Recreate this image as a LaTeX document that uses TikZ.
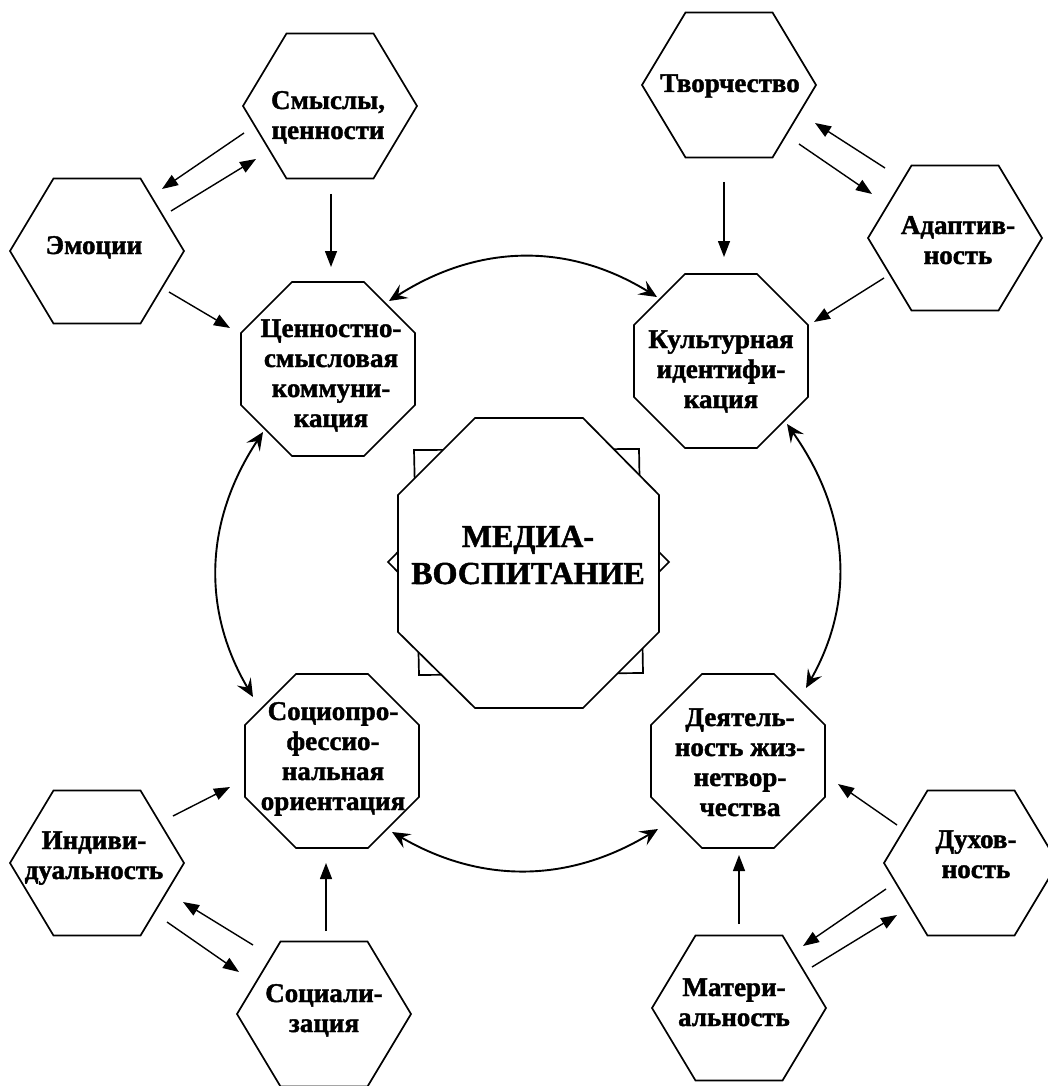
\documentclass[tikz,border=0pt]{standalone}
\usepackage{fontspec}
\setmainfont{Liberation Serif}[BoldFont={Liberation Serif Bold},BoldFeatures={FakeBold=1.5}]
\usetikzlibrary{calc,arrows.meta}
\newcommand\hexat[3]{%
  \coordinate (#1) at (#2,#3);
  \draw[shapeline,shift={(#2,#3)}] (-87,0) -- (-43.5,-72.5) -- (43.5,-72.5) -- (87,0) -- (43.5,72.5) -- (-43.5,72.5) -- cycle;}
\newcommand\octat[3]{%
  \coordinate (#1) at (#2,#3);
  \draw[shapeline,shift={(#2,#3)}] (-36,-87) -- (36,-87) -- (87,-36) -- (87,36) -- (36,87) -- (-36,87) -- (-87,36) -- (-87,-36) -- cycle;}
\begin{document}
\begin{tikzpicture}[x=1pt,y=-1pt,
  shapeline/.style={draw=black,line width=1.7pt,fill=white,line join=miter},
  lbl/.style={font=\fontsize{27}{30}\selectfont\bfseries,align=center,anchor=base,inner sep=0pt},
  biglbl/.style={font=\fontsize{32}{37}\selectfont\bfseries,align=center,anchor=base,inner sep=0pt},
  arr/.style={line width=1.4pt,-{Triangle[length=16pt,width=12pt]}},
  darr/.style={line width=1.9pt,{Stealth[length=18pt,width=16pt,inset=7pt]}-{Stealth[length=18pt,width=16pt,inset=7pt]}}]
\useasboundingbox (0,0) rectangle (1048,1086);
\begin{scope}
\clip (0,0) rectangle (1048,1086);
% hexagons
\hexat{smysl}{330}{106}
\hexat{emo}{97}{251}
\hexat{tvor}{729}{85}
\hexat{adapt}{955}{238}
\hexat{indiv}{97}{863}
\hexat{social}{324}{1014}
\hexat{dukh}{971}{863}
\hexat{mater}{739}{1008}
% octagons
\octat{cenn}{328}{369}
\octat{kult}{721}{361}
\octat{socpro}{332}{761}
\octat{deyat}{738}{761}
% centre
\coordinate (media) at (528,563);
\draw[shapeline] (388,562) -- (528,421) -- (669,562) -- (528,703) -- cycle;
\draw[shapeline] (414,450) -- (639,449) -- (643,673) -- (419,675) -- cycle;
\draw[shapeline] (475,418) -- (583,418) -- (659,495) -- (659,632) -- (583,708) -- (475,708) -- (398,632) -- (398,495) -- cycle;
\end{scope}
% labels (anchor = baseline of last line)
\node[lbl] (smysl-t) at (328,139) {Смыслы,\\ценности};
\node[lbl] (emo-t) at (94,254) {Эмоции};
\node[lbl] (tvor-t) at (730,92) {Творчество};
\node[lbl] (adapt-t) at (958,264) {Адаптив-\\ность};
\node[lbl] (indiv-t) at (94,879) {Индиви-\\дуальность};
\node[lbl] (social-t) at (324,1032) {Социали-\\зация};
\node[lbl] (dukh-t) at (976,878) {Духов-\\ность};
\node[lbl] (mater-t) at (734,1026) {Матери-\\альность};
\node[lbl] (cenn-t) at (331,427) {Ценностно-\\смысловая\\коммуни-\\кация};
\node[lbl] (kult-t) at (721,408) {Культурная\\идентифи-\\кация};
\node[lbl] (socpro-t) at (333,810) {Социопро-\\фессио-\\нальная\\ориентация};
\node[lbl] (deyat-t) at (740,816) {Деятель-\\ность жиз-\\нетвор-\\чества};
\node[biglbl] (media-t) at (528,584) {МЕДИА-\\ВОСПИТАНИЕ};
% straight arrows
\draw[arr] ($(smysl)+(-86,27)$) -- ($(emo)+(65,-62)$);
\draw[arr] ($(emo)+(74,-40)$) -- ($(smysl)+(-74,53)$);
\draw[arr] ($(smysl)+(1,88)$) -- ($(cenn)+(3,-102)$);
\draw[arr] ($(emo)+(72,41)$) -- ($(cenn)+(-98,-41)$);
\draw[arr] ($(adapt)+(-70,-70)$) -- ($(tvor)+(86,38)$);
\draw[arr] ($(tvor)+(70,59)$) -- ($(adapt)+(-83,-44)$);
\draw[arr] ($(tvor)+(-5,97)$) -- ($(kult)+(3,-104)$);
\draw[arr] ($(adapt)+(-71,40)$) -- ($(kult)+(93,-39)$);
\draw[arr] ($(indiv)+(76,-47)$) -- ($(socpro)+(-102,26)$);
\draw[arr] ($(social)+(-71,-69)$) -- ($(indiv)+(86,39)$);
\draw[arr] ($(indiv)+(70,59)$) -- ($(social)+(-85,-42)$);
\draw[arr] ($(social)+(2,-83)$) -- ($(socpro)+(-6,102)$);
\draw[arr] ($(dukh)+(-74,-38)$) -- ($(deyat)+(100,23)$);
\draw[arr] ($(dukh)+(-85,26)$) -- ($(mater)+(64,-62)$);
\draw[arr] ($(mater)+(73,-41)$) -- ($(dukh)+(-74,52)$);
\draw[arr] ($(mater)+(0,-84)$) -- ($(deyat)+(1,94)$);
% curved double arrows
\draw[darr] ($(cenn)+(61,-68)$) .. controls (478,244) and (568,242) .. ($(kult)+(-64,-64)$);
\draw[darr] ($(cenn)+(-65,63)$) .. controls (205,520) and (201,609) .. ($(socpro)+(-79,-64)$);
\draw[darr] ($(socpro)+(60,71)$) .. controls (481,884) and (569,883) .. ($(deyat)+(-80,68)$);
\draw[darr] ($(kult)+(66,63)$) .. controls (849,512) and (856,600) .. ($(deyat)+(68,-73)$);
\end{tikzpicture}
\end{document}
